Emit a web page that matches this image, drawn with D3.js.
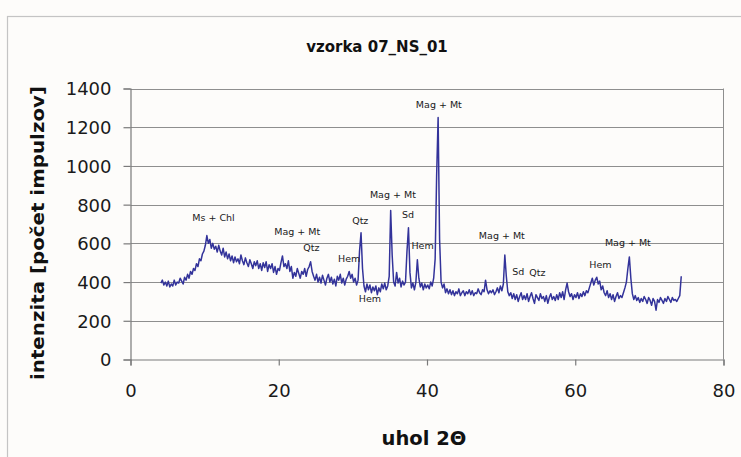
<!DOCTYPE html>
<html><head><meta charset="utf-8">
<script src="https://cdn.jsdelivr.net/npm/d3@7"></script>
<style>
html,body{margin:0;padding:0;background:#fdfcfa;}
svg{display:block;}
</style></head>
<body>
<svg id="chart" width="741" height="457"></svg>
<script>
// ---- data ----
const chartTitle = "vzorka 07_NS_01";
const xTitle = "uhol 2Θ";
const yTitle = "intenzita [počet impulzov]";
const xTicks = [0, 20, 40, 60, 80];
const yTicks = [0, 200, 400, 600, 800, 1000, 1200, 1400];
const angleStart = 4.1;   // first measured angle (2Θ)
const angleStep = 0.2;    // scan step (2Θ)
const intensity = [
  395,410,385,400,380,
  405,375,390,380,410,
  385,400,395,420,405,
  390,425,410,440,420,
  455,440,470,460,495,
  480,520,510,545,560,
  590,640,600,620,575,
  600,570,585,555,590,
  560,540,575,530,555,
  520,545,510,535,500,
  530,505,520,495,540,
  510,490,525,500,480,
  515,495,470,505,485,
  510,470,495,460,500,
  475,505,455,490,470,
  495,450,480,440,470,
  460,500,535,480,495,
  470,510,455,480,420,
  450,430,470,445,420,
  455,440,470,430,465,
  480,505,455,430,410,
  440,400,425,395,435,
  410,385,420,440,400,
  425,390,415,380,430,
  410,440,395,420,385,
  415,430,455,420,440,
  400,420,385,410,560,
  655,470,380,350,390,
  360,385,345,375,355,
  380,335,370,350,390,
  365,395,360,380,430,
  770,540,400,380,450,
  395,420,375,405,385,
  400,560,680,450,370,
  395,360,400,515,420,
  375,395,360,390,370,
  385,365,400,380,420,
  520,950,1250,620,400,
  370,390,345,365,340,
  360,335,355,330,350,
  340,365,330,345,355,
  330,350,340,360,335,
  355,330,345,340,365,
  345,335,360,350,410,
  360,340,355,345,360,
  335,350,370,345,380,
  355,390,540,430,350,
  330,345,315,340,310,
  335,300,325,345,310,
  330,310,340,300,325,
  345,315,290,335,320,
  305,340,315,325,300,
  330,290,320,340,310,
  325,305,335,310,345,
  320,350,310,360,395,
  350,325,340,310,335,
  320,345,315,340,325,
  350,330,355,345,370,
  395,420,385,410,425,
  390,405,360,380,345,
  330,355,320,340,310,
  335,300,325,345,315,
  330,320,345,370,400,
  470,530,420,340,310,
  330,305,320,295,315,
  300,325,310,290,320,
  305,280,315,300,255,
  310,295,320,305,290,
  315,300,325,310,295,
  320,305,310,300,315,
  330,430
];
const peakLabels = ["Ms + Chl","Mag + Mt","Qtz","Hem","Qtz","Hem","Mag + Mt","Sd","Hem","Mag + Mt","Mag + Mt","Sd","Qtz","Hem","Mag + Mt"];
const peakLabelAngle = [11.2, 22.5, 24.4, 29.5, 31.0, 32.3, 35.4, 37.45, 39.4, 41.6, 50.1, 52.3, 54.9, 63.4, 67.1];
const peakLabelIntensity = [735, 660, 576, 523, 715, 316, 850, 750, 588, 1315, 640, 454, 448, 488, 605];

// ---- drawing ----
const svg = d3.select("#chart");
const W = 741, H = 457;
const m = {left:130.5, right:W-723.5, top:88.5, bottom:H-359.5};
const iw = W - m.left - m.right, ih = H - m.top - m.bottom;

svg.append("rect").attr("x",0).attr("y",0).attr("width",W).attr("height",H).attr("fill","#fdfcfa");
svg.append("rect").attr("x",7.5).attr("y",16.5).attr("width",W+10).attr("height",H+10)
  .attr("fill","#fdfcfa").attr("stroke","#c4c4c4").attr("stroke-width",1.2);

const x = d3.scaleLinear().domain([0,80]).range([m.left, m.left+iw]);
const y = d3.scaleLinear().domain([0,1400]).range([m.top+ih, m.top]);

const fontTick = "'DejaVu Sans', Verdana, sans-serif";

// gridlines
svg.append("g").selectAll("line").data(yTicks.filter(d=>d>0)).join("line")
  .attr("x1", x(0)).attr("x2", x(80))
  .attr("y1", d=>Math.round(y(d))+0.5).attr("y2", d=>Math.round(y(d))+0.5)
  .attr("stroke","#8e8e8e").attr("stroke-width",1);
// right border
svg.append("line").attr("x1",x(80)).attr("x2",x(80)).attr("y1",y(1400)).attr("y2",y(0))
  .attr("stroke","#8e8e8e").attr("stroke-width",1);

// axes
const xAxis = d3.axisBottom(x).tickValues(xTicks).tickSize(6).tickPadding(19).tickFormat(d3.format("d"));
const gx = svg.append("g").attr("transform",`translate(0,${y(0)})`).call(xAxis);
const yAxis = d3.axisLeft(y).tickValues(yTicks).tickSize(7).tickPadding(12).tickFormat(d3.format("d"));
const gy = svg.append("g").attr("transform",`translate(${x(0)},0)`).call(yAxis);
[gx,gy].forEach(g=>{
  g.select(".domain").attr("stroke","#7a7a7a").attr("stroke-width",1.2);
  g.selectAll(".tick line").attr("stroke","#7a7a7a").attr("stroke-width",1.2);
  g.selectAll(".tick text").attr("font-family",fontTick).attr("font-size",18).attr("fill","#1a1a1a");
});
gy.selectAll(".tick text").attr("dy","0.36em");

// line
const line = d3.line()
  .x((d,i)=>x(angleStart + i*angleStep))
  .y(d=>y(d));
svg.append("path").datum(intensity).attr("d",line)
  .attr("fill","none").attr("stroke","#33339a").attr("stroke-width",1.5).attr("stroke-linejoin","round");

// peak labels
svg.append("g").selectAll("text").data(peakLabels).join("text")
  .attr("x",(d,i)=>x(peakLabelAngle[i]))
  .attr("y",(d,i)=>y(peakLabelIntensity[i]))
  .attr("dy","0.35em")
  .attr("text-anchor","middle")
  .attr("font-family",fontTick).attr("font-size",9.5).attr("fill","#1a1a1a")
  .text(d=>d);

// titles
svg.append("text").attr("x",377).attr("y",47).attr("dy","0.35em").attr("text-anchor","middle")
  .attr("font-family",fontTick).attr("font-weight","bold").attr("font-size",15).attr("fill","#111")
  .text(chartTitle);
svg.append("text").attr("x",424).attr("y",438).attr("dy","0.35em").attr("text-anchor","middle")
  .attr("font-family",fontTick).attr("font-weight","bold").attr("font-size",19.5).attr("fill","#111")
  .text(xTitle);
svg.append("text").attr("transform","translate(38,233) rotate(-90)").attr("dy","0.35em").attr("text-anchor","middle")
  .attr("font-family",fontTick).attr("font-weight","bold").attr("font-size",18.5).attr("fill","#111")
  .attr("textLength",294).attr("lengthAdjust","spacingAndGlyphs")
  .text(yTitle);
</script>
</body></html>
